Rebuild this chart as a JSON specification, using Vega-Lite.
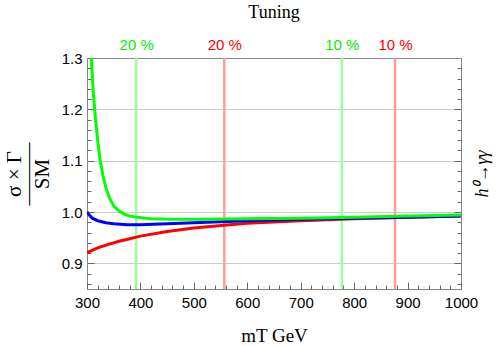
{
  "$schema": "https://vega.github.io/schema/vega-lite/v6.json",
  "width": 374,
  "height": 231,
  "autosize": {"type": "none"},
  "padding": {"left": 87, "top": 58, "right": 37, "bottom": 57},
  "background": "white",
  "title": {"text": "Tuning", "font": "Liberation Serif", "fontSize": 18, "fontWeight": "normal", "color": "black", "anchor": "middle", "frame": "group", "offset": 15},
  "config": {"view": {"stroke": "#888", "strokeWidth": 1}},
  "datasets": {
    "vlines": [
      {"m": 392, "kind": "green"},
      {"m": 557, "kind": "red"},
      {"m": 777, "kind": "green"},
      {"m": 876.5, "kind": "red"}
    ],
    "curves": [
      {"s": "red", "m": 300, "v": 0.921},
      {"s": "red", "m": 320, "v": 0.930},
      {"s": "red", "m": 340, "v": 0.937},
      {"s": "red", "m": 360, "v": 0.943},
      {"s": "red", "m": 380, "v": 0.948},
      {"s": "red", "m": 400, "v": 0.953},
      {"s": "red", "m": 450, "v": 0.962},
      {"s": "red", "m": 500, "v": 0.969},
      {"s": "red", "m": 557, "v": 0.974},
      {"s": "red", "m": 600, "v": 0.978},
      {"s": "red", "m": 700, "v": 0.983},
      {"s": "red", "m": 800, "v": 0.987},
      {"s": "red", "m": 900, "v": 0.990},
      {"s": "red", "m": 1000, "v": 0.992},
      {"s": "blue", "m": 300, "v": 1.0},
      {"s": "blue", "m": 305, "v": 0.993},
      {"s": "blue", "m": 310, "v": 0.988},
      {"s": "blue", "m": 320, "v": 0.983},
      {"s": "blue", "m": 335, "v": 0.979},
      {"s": "blue", "m": 350, "v": 0.977},
      {"s": "blue", "m": 375, "v": 0.975},
      {"s": "blue", "m": 400, "v": 0.975},
      {"s": "blue", "m": 450, "v": 0.977},
      {"s": "blue", "m": 500, "v": 0.979},
      {"s": "blue", "m": 550, "v": 0.981},
      {"s": "blue", "m": 600, "v": 0.983},
      {"s": "blue", "m": 700, "v": 0.986},
      {"s": "blue", "m": 800, "v": 0.988},
      {"s": "blue", "m": 900, "v": 0.990},
      {"s": "blue", "m": 1000, "v": 0.992},
      {"s": "green", "m": 304, "v": 1.40},
      {"s": "green", "m": 306, "v": 1.34},
      {"s": "green", "m": 309, "v": 1.28},
      {"s": "green", "m": 312, "v": 1.23},
      {"s": "green", "m": 316, "v": 1.18},
      {"s": "green", "m": 320, "v": 1.14},
      {"s": "green", "m": 324, "v": 1.105},
      {"s": "green", "m": 330, "v": 1.07},
      {"s": "green", "m": 336, "v": 1.045},
      {"s": "green", "m": 343, "v": 1.025},
      {"s": "green", "m": 350, "v": 1.012},
      {"s": "green", "m": 360, "v": 1.002},
      {"s": "green", "m": 370, "v": 0.996},
      {"s": "green", "m": 380, "v": 0.992},
      {"s": "green", "m": 392, "v": 0.990},
      {"s": "green", "m": 420, "v": 0.987},
      {"s": "green", "m": 460, "v": 0.986},
      {"s": "green", "m": 520, "v": 0.986},
      {"s": "green", "m": 600, "v": 0.987},
      {"s": "green", "m": 700, "v": 0.988},
      {"s": "green", "m": 800, "v": 0.990},
      {"s": "green", "m": 900, "v": 0.992},
      {"s": "green", "m": 1000, "v": 0.994}
    ]
  },
  "layer": [
    {
      "data": {"name": "vlines"},
      "mark": {"type": "rule", "strokeWidth": 2.5},
      "encoding": {
        "x": {
          "field": "m", "type": "quantitative",
          "scale": {"domain": [300, 1000], "nice": false, "zero": false},
          "axis": {
            "orient": "top", "title": null, "values": [392, 557, 777, 876.5],
            "labelExpr": "datum.value < 600 ? '20 %' : '10 %'",
            "labelColor": {"condition": {"test": "datum.value == 392 || datum.value == 777", "value": "#00ee00"}, "value": "#ff0000"},
            "labelFont": "Liberation Sans", "labelFontSize": 15, "labelPadding": 10,
            "domain": false, "grid": false, "tickSize": -4, "tickColor": "#444", "labelFlush": false
          }
        },
        "color": {"field": "kind", "type": "nominal", "scale": {"domain": ["green", "red"], "range": ["#9cff9c", "#ff9c9c"]}, "legend": null}
      }
    },
    {
      "data": {"name": "curves"},
      "mark": {"type": "line", "opacity": 0, "clip": true},
      "encoding": {
        "x": {"field": "m", "type": "quantitative", "axis": null},
        "y": {
          "field": "v", "type": "quantitative",
          "scale": {"domain": [0.85, 1.3], "nice": false, "zero": false},
          "axis": {
            "orient": "right", "title": "h⁰→γγ", "titleAngle": -90, "titleFont": "Liberation Serif", "titleFontStyle": "italic", "titleFontWeight": "normal", "titleFontSize": 18, "titleColor": "black", "titlePadding": 30,
            "values": [0.86, 0.88, 0.9, 0.92, 0.94, 0.96, 0.98, 1.0, 1.02, 1.04, 1.06, 1.08, 1.1, 1.12, 1.14, 1.16, 1.18, 1.2, 1.22, 1.24, 1.26, 1.28],
            "labels": false, "domain": false, "grid": false, "tickColor": "#666",
            "tickSize": {"condition": {"test": "abs(datum.value*10 - round(datum.value*10)) < 0.001", "value": -7}, "value": -4}
          }
        }
      }
    },
    {
      "data": {"name": "curves"},
      "mark": {"type": "line", "strokeWidth": 3, "clip": true},
      "encoding": {
        "x": {
          "field": "m", "type": "quantitative",
          "axis": {
            "orient": "bottom", "title": "mT GeV", "titleFont": "Liberation Serif", "titleFontSize": 19, "titleFontWeight": "normal", "titleColor": "black", "titlePadding": 16,
            "values": [300, 320, 340, 360, 380, 400, 420, 440, 460, 480, 500, 520, 540, 560, 580, 600, 620, 640, 660, 680, 700, 720, 740, 760, 780, 800, 820, 840, 860, 880, 900, 920, 940, 960, 980, 1000],
            "labelExpr": "datum.value % 100 == 0 ? format(datum.value, 'd') : ''",
            "labelFont": "Liberation Sans", "labelFontSize": 15, "labelColor": "black", "labelPadding": 13, "labelFlush": false,
            "domain": false, "grid": false, "tickColor": "#666",
            "tickSize": {"condition": {"test": "datum.value % 100 == 0", "value": -7}, "value": -4}
          }
        },
        "y": {
          "field": "v", "type": "quantitative",
          "axis": {
            "orient": "left",
            "title": ["σ × Γ", "———", "SM"], "titleFont": "Liberation Serif", "titleFontSize": 21, "titleFontWeight": "normal", "titleColor": "black", "titleLineHeight": 14, "titlePadding": 9,
            "values": [0.86, 0.88, 0.9, 0.92, 0.94, 0.96, 0.98, 1.0, 1.02, 1.04, 1.06, 1.08, 1.1, 1.12, 1.14, 1.16, 1.18, 1.2, 1.22, 1.24, 1.26, 1.28, 1.3],
            "labelExpr": "abs(datum.value*10 - round(datum.value*10)) < 0.001 ? format(datum.value, '.1f') : ''",
            "labelFont": "Liberation Sans", "labelFontSize": 15, "labelColor": "black", "labelPadding": 12, "labelFlush": false,
            "domain": false, "tickColor": "#666",
            "tickSize": {"condition": {"test": "abs(datum.value*10 - round(datum.value*10)) < 0.001", "value": -7}, "value": -4},
            "grid": true, "gridColor": "#cccccc",
            "gridOpacity": {"condition": {"test": "abs(datum.value*10 - round(datum.value*10)) < 0.001 && datum.value < 1.25", "value": 1}, "value": 0}
          }
        },
        "color": {"field": "s", "type": "nominal", "scale": {"domain": ["green", "blue", "red"], "range": ["#00ff00", "#0000ff", "#ff0000"]}, "legend": null}
      }
    }
  ],
  "resolve": {"axis": {"x": "independent", "y": "independent"}, "scale": {"color": "independent"}}
}
